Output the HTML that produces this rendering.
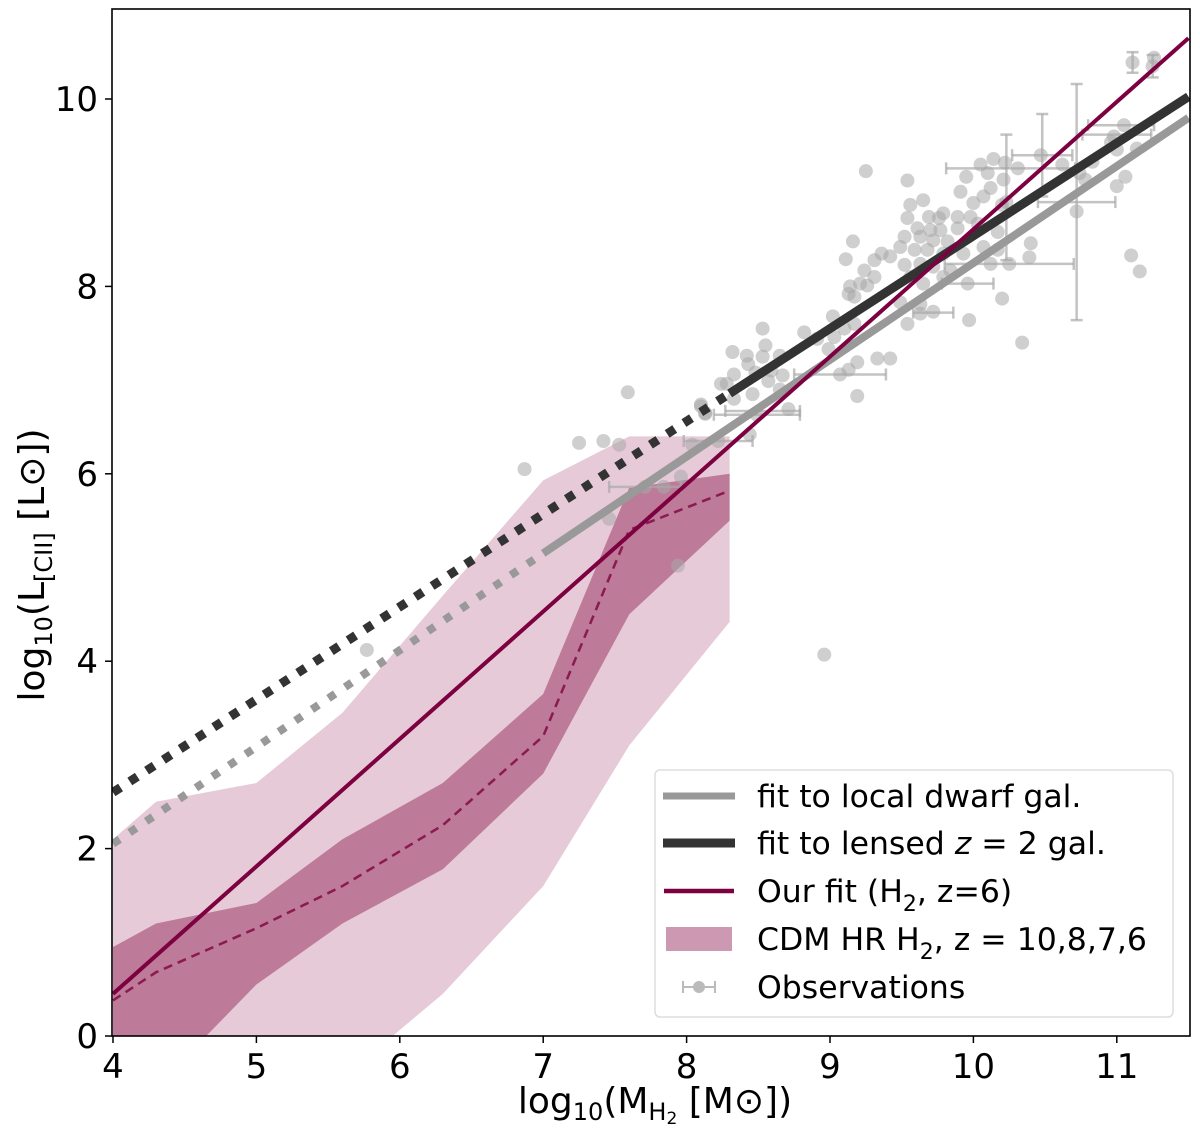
<!DOCTYPE html>
<html><head><meta charset="utf-8">
<style>
html,body{margin:0;padding:0;background:#fff;width:1200px;height:1134px;overflow:hidden;}
#chart{display:block;position:absolute;left:0;top:0;overflow:hidden;}
svg text{font-family:"DejaVu Sans","Liberation Sans",sans-serif;fill:#000;}
</style></head>
<body>
<svg id="chart" width="1200" height="1134" viewBox="0 0 1200 1134" xmlns="http://www.w3.org/2000/svg">
<defs><clipPath id="clip"><rect x="112" y="9" width="1078" height="1027"/></clipPath></defs>
<g id="plot" clip-path="url(#clip)"></g>
<g id="axes"></g>
<text x="655" y="1113" font-size="36" text-anchor="middle">log<tspan font-size="24" dy="7">10</tspan><tspan dy="-7">(M</tspan><tspan font-size="24" dy="7">H</tspan><tspan font-size="17" dy="4">2</tspan><tspan dy="-11"> [M</tspan><tspan>⊙</tspan>])</text>
<text transform="translate(44,565) rotate(-90)" font-size="36" text-anchor="middle">log<tspan font-size="24" dy="8">10</tspan><tspan dy="-8">(L</tspan><tspan font-size="24" dy="8">[CII]</tspan><tspan dy="-8"> [L</tspan><tspan>⊙</tspan>])</text>
<g font-size="31.5">
<rect x="655" y="770" width="518" height="247" rx="5" fill="#fff" fill-opacity="0.85" stroke="#ddd" stroke-width="1.5"/>
<g><line x1="663" y1="796" x2="735" y2="796" stroke="#999" stroke-width="7"/><text x="757" y="807">fit to local dwarf gal.</text></g>
<g><line x1="663" y1="843" x2="735" y2="843" stroke="#333" stroke-width="9"/><text x="757" y="854">fit to lensed <tspan font-style="italic">z</tspan> = 2 gal.</text></g>
<g><line x1="664" y1="891" x2="734" y2="891" stroke="#7d0040" stroke-width="4.5"/><text x="757" y="902">Our fit (H<tspan font-size="22" dy="9">2</tspan><tspan dy="-9">, z=6)</tspan></text></g>
<g><rect x="666" y="927" width="66" height="24" fill="#cd98b1"/><text x="757" y="950">CDM HR H<tspan font-size="22" dy="9">2</tspan><tspan dy="-9">, z = 10,8,7,6</tspan></text></g>
<g><line x1="683" y1="987" x2="715" y2="987" stroke="#bbb" stroke-width="2"/><line x1="683" y1="981" x2="683" y2="993" stroke="#bbb" stroke-width="2"/><line x1="715" y1="981" x2="715" y2="993" stroke="#bbb" stroke-width="2"/><circle cx="699" cy="987" r="6" fill="#bbb"/><text x="757" y="998">Observations</text></g>
</g>
</svg>
<script>
const xTicks=[4,5,6,7,8,9,10,11];
const yTicks=[0,2,4,6,8,10];
// simulation bands
const bandX=[4,4.3,5,5.6,6.3,7,7.6,8.3];
const outerUpper=[2.1,2.5,2.7,3.45,4.7,5.93,6.4,6.4];
const outerLower=[-0.5,-0.5,-0.5,-0.45,0.45,1.6,3.1,4.42];
const innerUpper=[0.95,1.2,1.42,2.1,2.7,3.65,5.85,6.0];
const innerLower=[-0.55,-0.55,0.55,1.2,1.78,2.8,4.5,5.5];
const median=[0.38,0.68,1.15,1.6,2.25,3.2,5.4,5.82];
// fits
const dwarfFit={slope:1.033,icpt:-2.08,x0:4,xb:7,x1:11.5};
const lensedFit={slope:0.99,icpt:-1.36,x0:4,xb:8.3,x1:11.5};
const ourFit={slope:1.36,icpt:-4.99,x0:4,x1:11.5};
// observations
const obsX=[11.11,11.25,11.26,9.25,9.54,11.05,10.98,10.96,11.00,11.14,11.00,11.06,11.10,11.16,10.14,10.05,10.22,10.31,10.47,10.62,10.74,10.83,10.78,10.72,9.95,10.10,10.21,10.12,9.91,10.00,10.07,10.20,9.65,9.56,9.69,9.76,9.79,9.89,9.98,9.54,9.61,9.70,9.77,9.89,10.03,10.17,9.52,9.63,9.72,9.82,9.49,9.59,9.68,9.79,9.93,10.07,10.17,10.40,10.39,9.42,9.52,9.63,9.72,9.84,10.12,9.31,9.36,9.24,9.31,9.21,9.14,9.13,9.26,9.56,9.65,9.79,9.96,10.20,9.17,9.49,9.63,9.72,9.54,9.63,9.97,10.34,9.16,9.11,9.02,8.82,8.91,9.10,9.17,9.03,8.99,9.19,9.07,9.13,9.33,9.42,9.19,8.53,8.55,8.32,8.42,8.53,8.65,8.33,8.43,8.48,8.59,8.67,8.57,8.65,8.24,8.28,8.46,8.33,8.10,8.13,8.71,8.44,7.59,7.25,7.42,7.53,6.87,8.04,7.96,7.84,7.46,7.94,8.96,8.10,8.13,5.77,8.49,8.22,7.71,10.23,10.25];
const obsY=[10.39,10.35,10.44,9.23,9.13,9.72,9.60,9.54,9.46,9.47,9.07,9.17,8.33,8.16,9.36,9.30,9.32,9.26,9.40,9.30,9.21,9.33,9.14,8.80,9.17,9.21,9.14,9.05,9.01,8.89,8.96,8.87,8.92,8.87,8.74,8.73,8.78,8.74,8.74,8.73,8.62,8.60,8.60,8.62,8.67,8.58,8.53,8.53,8.49,8.48,8.42,8.39,8.39,8.35,8.35,8.42,8.39,8.46,8.31,8.32,8.23,8.24,8.21,8.17,8.24,8.28,8.35,8.17,8.10,8.03,8.00,7.92,8.01,8.10,8.03,8.10,8.03,7.87,7.89,7.83,7.81,7.73,7.60,7.71,7.64,7.40,8.48,8.29,7.68,7.51,7.44,7.55,7.60,7.46,7.33,7.19,7.06,7.11,7.23,7.23,6.83,7.55,7.37,7.30,7.26,7.25,7.26,7.06,7.17,7.08,7.10,7.05,6.99,6.90,6.96,6.96,6.85,6.80,6.74,6.64,6.69,6.42,6.87,6.33,6.35,6.31,6.05,6.31,5.97,5.86,5.52,5.02,4.07,6.72,6.65,4.12,6.63,6.35,5.86,8.9,8.24];
// error bars
const errX=[11.11,11.25,10.72,10.26,10.48,11.03,11.00,9.07,9.72,9.96,8.49,8.53,10.25,10.23,8.22,7.71];
const errY=[10.39,10.35,8.90,9.26,9.40,9.72,9.62,7.06,7.72,8.03,6.63,6.67,8.24,8.95,6.35,5.86];
const errXerr=[0,0,0.27,0.45,0.21,0.23,0.24,0.32,0.14,0.18,0.30,0.26,0.45,0,0.24,0.25];
const errYerr=[0.11,0.12,1.26,0,0.44,0,0,0,0,0,0,0,0,0.67,0,0];

const NS='http://www.w3.org/2000/svg';
const X=v=>113+(v-4)*143.4;
const Y=v=>1036-v*93.7;
function mk(tag,attrs,parent){const e=document.createElementNS(NS,tag);for(const k in attrs)e.setAttribute(k,attrs[k]);parent.appendChild(e);return e;}
const plot=document.getElementById('plot');
const axes=document.getElementById('axes');

function bandPath(up,lo){let d='';bandX.forEach((x,i)=>{d+=(i?'L':'M')+X(x)+','+Y(up[i]);});for(let i=bandX.length-1;i>=0;i--)d+='L'+X(bandX[i])+','+Y(lo[i]);return d+'Z';}
let e;
e=mk('path',{d:bandPath(outerUpper,outerLower),fill:'#e6cad7'},plot);


e=mk('path',{d:bandPath(innerUpper,innerLower),fill:'#bd7a99'},plot);


e=mk('path',{d:bandX.map((x,i)=>(i?'L':'M')+X(x)+','+Y(median[i])).join(''),fill:'none',stroke:'#8a1a4f','stroke-width':2.5,'stroke-dasharray':'9 6'},plot);



errX.forEach((x,i)=>{
  const g=mk('g',{stroke:'#aaa','stroke-opacity':0.7,'stroke-width':2.5},plot);
  
  
  if(errXerr[i]>0){mk('line',{x1:X(x-errXerr[i]),x2:X(x+errXerr[i]),y1:Y(errY[i]),y2:Y(errY[i])},g);
    mk('line',{x1:X(x-errXerr[i]),x2:X(x-errXerr[i]),y1:Y(errY[i])-6,y2:Y(errY[i])+6},g);
    mk('line',{x1:X(x+errXerr[i]),x2:X(x+errXerr[i]),y1:Y(errY[i])-6,y2:Y(errY[i])+6},g);}
  if(errYerr[i]>0){mk('line',{x1:X(x),x2:X(x),y1:Y(errY[i]-errYerr[i]),y2:Y(errY[i]+errYerr[i])},g);
    mk('line',{x1:X(x)-6,x2:X(x)+6,y1:Y(errY[i]-errYerr[i]),y2:Y(errY[i]-errYerr[i])},g);
    mk('line',{x1:X(x)-6,x2:X(x)+6,y1:Y(errY[i]+errYerr[i]),y2:Y(errY[i]+errYerr[i])},g);}
});
obsX.forEach((x,i)=>{
  const c=mk('circle',{cx:X(x),cy:Y(obsY[i]),r:7,fill:'#a8a8a8','fill-opacity':0.55},plot);
  
  
});

function fitLines(f,color,w,dash,name){
  const yf=x=>f.slope*x+f.icpt;
  let l=mk('line',{x1:X(f.x0),y1:Y(yf(f.x0)),x2:X(f.xb),y2:Y(yf(f.xb)),stroke:color,'stroke-width':w,'stroke-dasharray':dash},plot);
  
  
  l=mk('line',{x1:X(f.xb),y1:Y(yf(f.xb)),x2:X(f.x1),y2:Y(yf(f.x1)),stroke:color,'stroke-width':w},plot);
  
  
}
fitLines(dwarfFit,'#999',8,'8 12','dwarf-fit');
fitLines(lensedFit,'#333',9,'9 11','lensed-fit');
e=mk('line',{x1:X(ourFit.x0),y1:Y(ourFit.slope*ourFit.x0+ourFit.icpt),x2:X(ourFit.x1),y2:Y(ourFit.slope*ourFit.x1+ourFit.icpt),stroke:'#7d0040','stroke-width':4},plot);



e=mk('rect',{x:112,y:9,width:1078,height:1027,fill:'none',stroke:'#000','stroke-width':1.6},axes);


xTicks.forEach(t=>{
  mk('line',{x1:X(t),x2:X(t),y1:1036,y2:1043,stroke:'#000','stroke-width':1.5},axes);
  const tx=mk('text',{x:X(t),y:1078,'font-size':34,'text-anchor':'middle'},axes);tx.textContent=t;
  
  
});
yTicks.forEach(t=>{
  mk('line',{x1:105,x2:112,y1:Y(t),y2:Y(t),stroke:'#000','stroke-width':1.5},axes);
  const tx=mk('text',{x:98,y:Y(t)+12,'font-size':34,'text-anchor':'end'},axes);tx.textContent=t;
  
  
});
</script>
</body></html>
